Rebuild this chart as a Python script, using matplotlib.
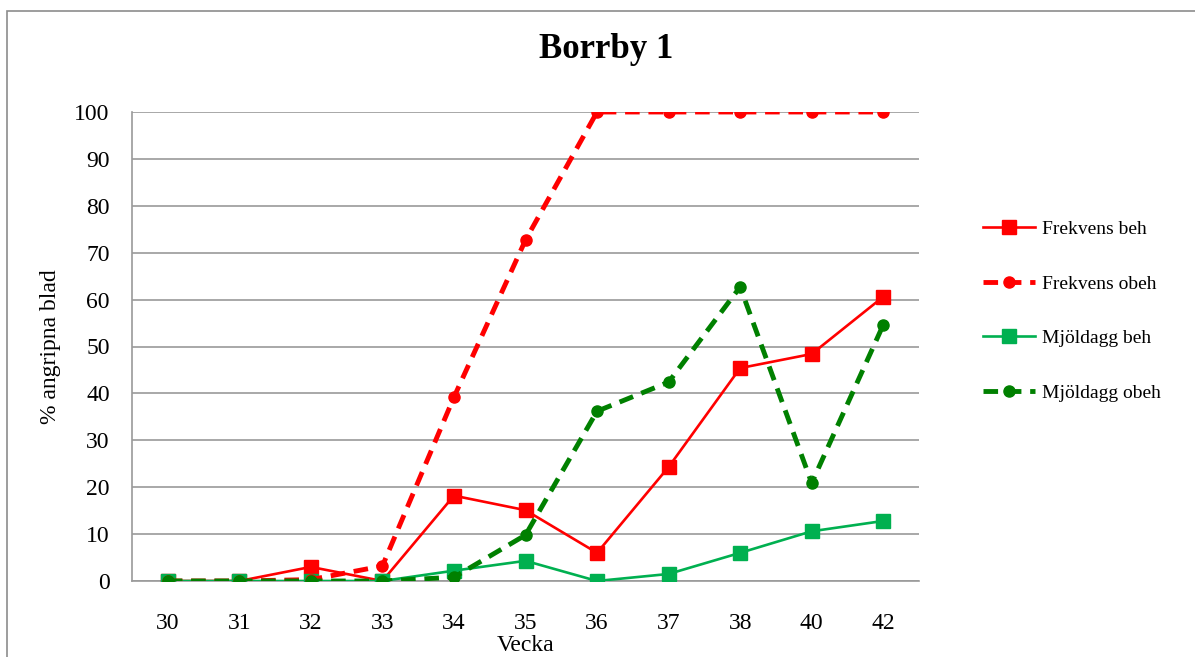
import matplotlib
matplotlib.use("Agg")
import matplotlib.pyplot as plt
from matplotlib.patches import Rectangle

weeks = ["30", "31", "32", "33", "34", "35", "36", "37", "38", "40", "42"]
frekvens_beh = [0, 0, 3.0, 0, 18.2, 15.1, 6.0, 24.3, 45.4, 48.4, 60.6]
frekvens_obeh = [0, 0, 0.3, 3.2, 39.2, 72.7, 100, 100, 100, 100, 100]
mjoldagg_beh = [0, 0, 0, 0, 2.2, 4.3, 0, 1.5, 6.0, 10.6, 12.8]
mjoldagg_obeh = [0, 0, 0, 0, 0.8, 9.8, 36.2, 42.4, 62.7, 20.9, 54.6]
yticks = [0, 10, 20, 30, 40, 50, 60, 70, 80, 90, 100]

plt.rcParams['font.family'] = ['Liberation Serif', 'DejaVu Serif']

W, H = 1195, 657
fig = plt.figure(figsize=(W / 100, H / 100), dpi=100)
fig.patches.append(Rectangle((7 / W, -0.1), 1.2, 1 - 11 / H + 0.1, transform=fig.transFigure,
                             fill=False, edgecolor='#8c8c8c', linewidth=1.2, zorder=0))

ax = fig.add_axes([132 / W, (H - 581) / H, (919 - 132) / W, (581 - 112) / H])
x = list(range(len(weeks)))

ax.plot(x, frekvens_beh, color='#FF0000', linewidth=1.9, marker='s', markersize=10,
        label='Frekvens beh', zorder=3)
ax.plot(x, frekvens_obeh, color='#FF0000', linewidth=3.5, linestyle=(0, (3, 1.8)),
        marker='o', markersize=8, label='Frekvens obeh', zorder=4)
ax.plot(x, mjoldagg_beh, color='#00B050', linewidth=1.9, marker='s', markersize=10,
        label='Mjöldagg beh', zorder=3)
ax.plot(x, mjoldagg_obeh, color='#008000', linewidth=3.5, linestyle=(0, (3, 1.8)),
        marker='o', markersize=8, label='Mjöldagg obeh', zorder=5)

ax.set_xlim(-0.5, len(weeks) - 0.5)
ax.set_ylim(0, 100)
ax.set_xticks(x)
ax.set_xticklabels(weeks)
ax.set_yticks(yticks)
ax.tick_params(axis='both', length=0, labelsize=17)
ax.tick_params(axis='x', pad=23)
ax.tick_params(axis='y', pad=16)
ax.grid(axis='y', color='#9a9a9a', linewidth=1.2)
ax.set_axisbelow(True)
for s in ['top', 'right']:
    ax.spines[s].set_visible(False)
for s in ['left', 'bottom']:
    ax.spines[s].set_color('#9a9a9a')
    ax.spines[s].set_linewidth(1.2)

ax.set_xlabel('Vecka', fontsize=17, labelpad=1)
ax.set_ylabel('% angripna blad', fontsize=17, labelpad=10)
fig.text(606 / W, 1 - 50 / H, 'Borrby 1', fontsize=25, fontweight='bold',
         ha='center', va='center')

fig.legend(loc='center left', bbox_to_anchor=(965 / W, 1 - 311 / H), frameon=False,
           fontsize=14, labelspacing=1.9, handlelength=2.7, handletextpad=0.35)

fig.savefig('out.png', dpi=100)
